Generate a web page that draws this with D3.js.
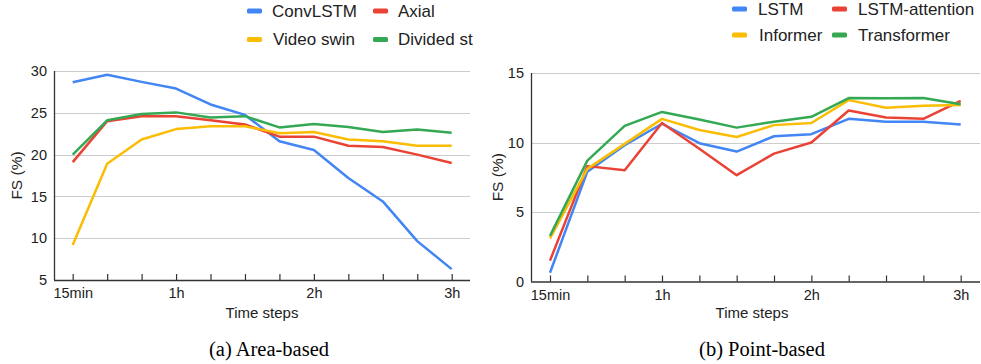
<!DOCTYPE html>
<html>
<head>
<meta charset="utf-8">
<script src="https://cdn.jsdelivr.net/npm/d3@7"></script>
<style>
  body { margin: 0; background: #fff; }
  svg { display: block; font-family: "Liberation Sans", Arial, sans-serif; }
</style>
</head>
<body>
<svg id="chart" width="981" height="364"></svg>
<script>
// time steps every 15 minutes, labels only at some of them
const steps = ['15min', '30min', '45min', '1h', '1h15', '1h30', '1h45', '2h', '2h15', '2h30', '2h45', '3h'];
const shownLabels = ['15min', '1h', '2h', '3h'];

// (a) area-based
const areaNames = ['ConvLSTM', 'Axial', 'Video swin', 'Divided st'];
const convLSTM  = [28.65, 29.55, 28.7, 27.9, 26.0, 24.75, 21.6, 20.55, 17.2, 14.4, 9.65, 6.3];
const axial     = [19.1, 24.0, 24.6, 24.6, 24.1, 23.6, 22.15, 22.15, 21.05, 20.9, 20.0, 19.0];
const videoSwin = [9.2, 18.9, 21.8, 23.05, 23.4, 23.4, 22.55, 22.7, 21.8, 21.6, 21.05, 21.05];
const dividedSt = [20.0, 24.1, 24.85, 25.05, 24.45, 24.6, 23.25, 23.65, 23.3, 22.7, 23.0, 22.6];
const areaTicks = [5, 10, 15, 20, 25, 30];

// (b) point-based
const pointNames = ['LSTM', 'LSTM-attention', 'Informer', 'Transformer'];
const lstm        = [0.63, 7.9, 9.8, 11.35, 9.95, 9.35, 10.45, 10.6, 11.7, 11.5, 11.5, 11.3];
const lstmAttn    = [1.5, 8.3, 8.0, 11.4, 9.55, 7.65, 9.2, 10.0, 12.3, 11.8, 11.7, 13.0];
const informer    = [3.1, 8.1, 9.9, 11.7, 10.9, 10.4, 11.25, 11.4, 13.05, 12.5, 12.65, 12.7];
const transformer = [3.28, 8.7, 11.2, 12.2, 11.65, 11.07, 11.5, 11.85, 13.2, 13.18, 13.2, 12.75];
const pointTicks = [0, 5, 10, 15];

const colors = ['#4285F4', '#EA4335', '#FBBC04', '#34A853'];

const svg = d3.select('#chart');

function drawPanel(opt) {
  const g = svg.append('g');

  const x = d3.scaleLinear().domain([0, steps.length - 1]).range([opt.x0, opt.x1]);
  const y = d3.scaleLinear().domain(opt.yDomain).range([opt.yBottom, opt.yTop]);

  // gridlines
  g.selectAll('line.grid')
    .data(opt.yTicks.slice(1))
    .join('line')
    .attr('class', 'grid')
    .attr('x1', opt.axisLeft)
    .attr('x2', opt.axisRight)
    .attr('y1', d => Math.round(y(d)) + 0.5)
    .attr('y2', d => Math.round(y(d)) + 0.5)
    .style('stroke', '#cccccc')
    .style('stroke-width', 1);

  // lines
  const line = d3.line().x((d, i) => x(i)).y(d => y(d));
  g.selectAll('path.series')
    .data(opt.series)
    .join('path')
    .attr('class', 'series')
    .attr('d', d => line(d))
    .style('fill', 'none')
    .style('stroke', (d, i) => colors[i])
    .style('stroke-width', 2.5)
    .style('stroke-linejoin', 'round');

  // y axis
  const yAxis = g.append('g')
    .attr('transform', `translate(${opt.axisLeft},0)`)
    .call(d3.axisLeft(y).tickValues(opt.yTicks).tickSize(0).tickPadding(7));
  yAxis.select('.domain').remove();
  yAxis.selectAll('text').style('font-size', '14.5px').style('fill', '#222');
  g.append('line')
    .attr('x1', opt.axisLeft + 0.5).attr('x2', opt.axisLeft + 0.5)
    .attr('y1', opt.yTop).attr('y2', opt.yBottom)
    .style('stroke', '#333').style('stroke-width', 1.3);

  // x axis
  const xAxis = g.append('g')
    .attr('transform', `translate(0,${opt.yBottom})`)
    .call(d3.axisBottom(x)
      .tickValues(d3.range(steps.length))
      .tickSizeInner(-6)
      .tickSizeOuter(0)
      .tickPadding(8)
      .tickFormat(i => shownLabels.includes(steps[i]) ? steps[i] : ''));
  xAxis.select('.domain').remove();
  xAxis.selectAll('.tick line').style('stroke', '#333').style('stroke-width', 1.2);
  xAxis.selectAll('text').style('font-size', '14.5px').style('fill', '#222');
  g.append('line')
    .attr('x1', opt.axisLeft).attr('x2', opt.axisRight)
    .attr('y1', opt.yBottom + 0.5).attr('y2', opt.yBottom + 0.5)
    .style('stroke', '#333').style('stroke-width', 1.3);

  // axis titles
  g.append('text')
    .attr('transform', `translate(${opt.yTitleX},${(opt.yTop + opt.yBottom) / 2}) rotate(-90)`)
    .attr('text-anchor', 'middle')
    .style('font-size', '15.5px')
    .style('fill', '#222')
    .text('FS (%)');
  g.append('text')
    .attr('x', opt.xTitleX)
    .attr('y', 318)
    .attr('text-anchor', 'middle')
    .style('font-size', '15px')
    .style('fill', '#222')
    .text('Time steps');

  // legend (2 x 2)
  const leg = g.selectAll('g.leg')
    .data(opt.names)
    .join('g')
    .attr('class', 'leg')
    .attr('transform', (d, i) => `translate(${opt.legX[i % 2]},${opt.legY[Math.floor(i / 2)]})`);
  leg.append('rect')
    .attr('x', 0).attr('y', -2.5)
    .attr('width', 15).attr('height', 5)
    .attr('rx', 1.5)
    .style('fill', (d, i) => colors[i]);
  leg.append('text')
    .attr('x', (d, i) => opt.legTextDx[i])
    .attr('y', 0)
    .attr('dy', '0.35em')
    .style('font-size', '17px')
    .style('fill', '#222')
    .text(d => d);

  // caption
  svg.append('text')
    .attr('x', opt.captionX)
    .attr('y', 356)
    .attr('text-anchor', 'middle')
    .style('font-family', '"Liberation Serif", "Times New Roman", serif')
    .style('font-size', '20.5px')
    .style('fill', '#000')
    .text(opt.caption);
}

drawPanel({
  series: [convLSTM, axial, videoSwin, dividedSt],
  names: areaNames,
  yDomain: [5, 30], yTicks: areaTicks,
  x0: 72.7, x1: 451.7,
  axisLeft: 54, axisRight: 470,
  yTop: 71, yBottom: 280,
  yTitleX: 22, xTitleX: 262,
  legX: [247, 373], legY: [11, 39.5], legTextDx: [25, 25, 26, 25],
  captionX: 269, caption: '(a) Area-based'
});

drawPanel({
  series: [lstm, lstmAttn, informer, transformer],
  names: pointNames,
  yDomain: [0, 15], yTicks: pointTicks,
  x0: 550, x1: 960.7,
  axisLeft: 531, axisRight: 980,
  yTop: 73, yBottom: 281.5,
  yTitleX: 503, xTitleX: 752,
  legX: [732, 832], legY: [9, 35], legTextDx: [26, 26, 27, 26],
  captionX: 762, caption: '(b) Point-based'
});
</script>
</body>
</html>
